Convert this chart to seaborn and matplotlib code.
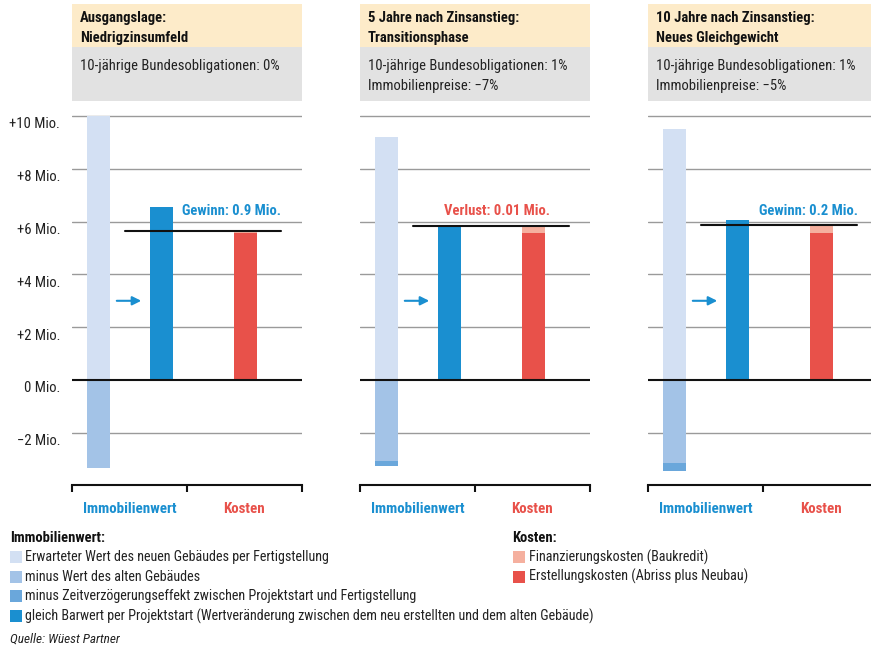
# Immobilienwert vs. Kosten in drei Zinsszenarien

import matplotlib
matplotlib.use("Agg")
import matplotlib.pyplot as plt
from matplotlib.patches import Rectangle
import seaborn as sns

sns.set_theme(style="white")
plt.rcParams["font.family"] = ["Roboto Condensed", "Roboto", "DejaVu Sans"]

# --- data (Mio.) ---
scenarios = ["Ausgangslage:\nNiedrigzinsumfeld",
             "5 Jahre nach Zinsanstieg:\nTransitionsphase",
             "10 Jahre nach Zinsanstieg:\nNeues Gleichgewicht"]
conditions = ["10-jährige Bundesobligationen: 0%",
              "10-jährige Bundesobligationen: 1%\nImmobilienpreise: −7%",
              "10-jährige Bundesobligationen: 1%\nImmobilienpreise: −5%"]
wert_neu = [10.0, 9.22, 9.49]
wert_alt = [-3.32, -3.07, -3.16]
zeitverzoegerung = [0.0, -0.18, -0.27]
barwert = [6.55, 5.83, 6.06]
erstellungskosten = [5.58, 5.58, 5.58]
finanzierungskosten = [0.07, 0.26, 0.28]
saldo_labels = ["Gewinn: 0.9 Mio.", "Verlust: 0.01 Mio.", "Gewinn: 0.2 Mio."]
ytick_values = [-2, 0, 2, 4, 6, 8, 10]
ytick_labels = ["−2 Mio.", "0 Mio.", "+2 Mio.", "+4 Mio.", "+6 Mio.", "+8 Mio.", "+10 Mio."]
categories = ["Immobilienwert", "Kosten"]
legend_wert = ["Erwarteter Wert des neuen Gebäudes per Fertigstellung",
               "minus Wert des alten Gebäudes",
               "minus Zeitverzögerungseffekt zwischen Projektstart und Fertigstellung",
               "gleich Barwert per Projektstart (Wertveränderung zwischen dem neu erstellten und dem alten Gebäude)"]
legend_kosten = ["Finanzierungskosten (Baukredit)", "Erstellungskosten (Abriss plus Neubau)"]

# --- colours ---
C_NEU, C_ALT, C_ZEIT, C_BAR = "#d3e0f3", "#a3c3e7", "#6aa7db", "#1a8fd0"
C_FIN, C_ERST = "#f5b09f", "#e8514a"
C_BEIGE, C_GRAY = "#fdebc9", "#e2e2e2"

# --- layout in pixels ---
W, H = 871, 647
PANEL_L = [72, 360, 648]
PANEL_W = 230
AX_TOP, AX_BOT = 105, 485
Y0, PXU = 380, 26.4
BAR_W = 23
X_NEU, X_BAR, X_KOST = 26, 89, 173
SALDO_X = [159, 136.5, 160]
FS = 10.5
FS_LEG = 10.2

fig = plt.figure(figsize=(W / 100, H / 100), dpi=100)


def fbox(x, y, w, h, color):
    fig.add_artist(Rectangle((x / W, 1 - (y + h) / H), w / W, h / H,
                             transform=fig.transFigure, color=color, lw=0))


def ftext(x, y, s, **kw):
    fig.text(x / W, 1 - y / H, s, va="center", ha="left", **kw)


def bar(ax, x, v, color):
    sns.barplot(x=[x], y=[v], native_scale=True, width=BAR_W, color=color,
                saturation=1, linewidth=0, errorbar=None, orient="x", ax=ax)


for i in range(3):
    left = PANEL_L[i]
    ax = fig.add_axes([left / W, 1 - AX_BOT / H, PANEL_W / W, (AX_BOT - AX_TOP) / H])

    # header
    fbox(left, 4, PANEL_W, 43, C_BEIGE)
    fbox(left, 47, PANEL_W, 54, C_GRAY)
    t1, t2 = scenarios[i].split("\n")
    ftext(left + 8, 18, t1, fontsize=FS, fontweight="bold", color="#111111")
    ftext(left + 8, 38, t2, fontsize=FS, fontweight="bold", color="#111111")
    for j, line in enumerate(conditions[i].split("\n")):
        ftext(left + 8, 66 + 20 * j, line, fontsize=FS, color="#222222")

    # grid
    for v in ytick_values:
        if v != 0:
            ax.axhline(v, color="#9a9a9a", lw=1, zorder=0)

    # Immobilienwert stack
    bar(ax, X_NEU, wert_neu[i], C_NEU)
    bar(ax, X_NEU, wert_alt[i] + zeitverzoegerung[i], C_ZEIT)
    bar(ax, X_NEU, wert_alt[i], C_ALT)
    bar(ax, X_BAR, barwert[i], C_BAR)
    # Kosten stack
    kosten = erstellungskosten[i] + finanzierungskosten[i]
    bar(ax, X_KOST, kosten, C_FIN)
    bar(ax, X_KOST, erstellungskosten[i], C_ERST)

    ax.axhline(0, color="#111111", lw=1.5, zorder=5)
    ax.plot([53, 209], [kosten, kosten], color="#111111", lw=1.5, zorder=6)
    ax.annotate("", xy=(72, 3), xytext=(42, 3),
                arrowprops=dict(arrowstyle="-|>", color=C_BAR, lw=1.5, mutation_scale=13))
    saldo = barwert[i] - kosten
    ax.text(SALDO_X[i], 6.4, saldo_labels[i], ha="center", va="center",
            fontsize=10.5, fontweight="bold", color=C_BAR if saldo >= 0 else C_ERST)

    ax.set_xlim(0, PANEL_W)
    ax.set_ylim((Y0 - AX_BOT) / PXU, (Y0 - AX_TOP) / PXU)
    ax.set_xlabel("")
    ax.set_ylabel("")
    for s in ["top", "left", "right"]:
        ax.spines[s].set_visible(False)
    ax.spines["bottom"].set_color("#111111")
    ax.spines["bottom"].set_linewidth(1.5)
    ax.set_yticks([])
    ax.set_xticks([0, PANEL_W / 2, PANEL_W])
    ax.set_xticklabels([])
    ax.tick_params(axis="x", which="major", direction="out", length=5, width=1.5,
                   color="#111111", bottom=True)
    ax.set_xticks([PANEL_W / 4, PANEL_W * 3 / 4], minor=True)
    ax.set_xticklabels(categories, minor=True, fontsize=10.8, fontweight="bold")
    ax.tick_params(axis="x", which="minor", length=0, pad=12)
    for lbl, c in zip(ax.get_xticklabels(minor=True), [C_BAR, C_ERST]):
        lbl.set_color(c)
    ax.patch.set_visible(False)

    if i == 0:
        for v, lbl in zip(ytick_values, ytick_labels):
            ax.annotate(lbl, xy=(0, v), xycoords=("axes fraction", "data"),
                        xytext=(-12 * 0.72, -8.5 * 0.72), textcoords="offset points",
                        ha="right", va="center", fontsize=10.5, color="#222222")

# legend
ftext(10, 538, "Immobilienwert:", fontsize=FS, fontweight="bold", color="#111111")
for j, (lbl, c) in enumerate(zip(legend_wert, [C_NEU, C_ALT, C_ZEIT, C_BAR])):
    y = 557 + 19.7 * j
    fbox(10, y - 6, 12, 12, c)
    ftext(25, y, lbl, fontsize=FS_LEG, color="#222222")
ftext(512, 538, "Kosten:", fontsize=FS, fontweight="bold", color="#111111")
for j, (lbl, c) in enumerate(zip(legend_kosten, [C_FIN, C_ERST])):
    y = 557 + 19.7 * j
    fbox(513, y - 6, 12, 12, c)
    ftext(529, y, lbl, fontsize=FS_LEG, color="#222222")
ftext(10, 639, "Quelle: Wüest Partner", fontsize=9.5, style="italic", color="#222222")

fig.savefig("out.png", dpi=100)
